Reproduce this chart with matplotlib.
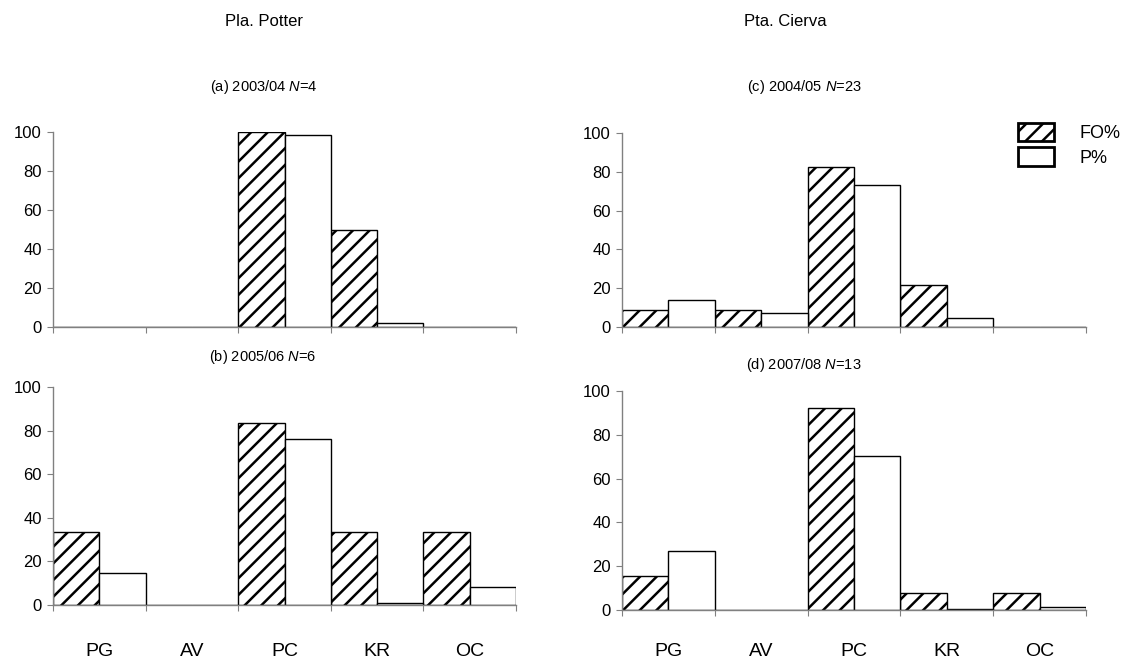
import matplotlib
matplotlib.use("Agg")
import matplotlib.pyplot as plt
import numpy as np

plt.rcParams['font.family'] = ['Liberation Sans', 'DejaVu Sans']
plt.rcParams['mathtext.fontset'] = 'custom'
plt.rcParams['mathtext.it'] = 'Liberation Sans:italic'
plt.rcParams['mathtext.rm'] = 'Liberation Sans'
plt.rcParams['hatch.linewidth'] = 1.8

categories = ['PG', 'AV', 'PC', 'KR', 'OC']

# (a) Pla. Potter 2003/04
fo_a = [0, 0, 100, 50, 0]
p_a = [0, 0, 98.5, 2.0, 0]
# (b) Pla. Potter 2005/06
fo_b = [33.3, 0, 83.3, 33.3, 33.3]
p_b = [14.9, 0, 76.2, 1.0, 8.3]
# (c) Pta. Cierva 2004/05
fo_c = [8.7, 8.7, 82.6, 21.7, 0]
p_c = [14.0, 7.0, 73.4, 4.8, 0]
# (d) Pta. Cierva 2007/08
fo_d = [15.4, 0, 92.3, 7.7, 7.7]
p_d = [26.8, 0, 70.5, 0.3, 1.4]

W, H = 1131, 660


def px_rect(x0, x1, y0, y100):
    return [x0 / W, 1 - y0 / H, (x1 - x0) / W, (y0 - y100) / H]


panels = [
    (fo_a, p_a, px_rect(53, 516, 327, 132), False, 0),
    (fo_b, p_b, px_rect(53, 516, 605, 387), True, 27),
    (fo_c, p_c, px_rect(622, 1086, 327, 133), False, 0),
    (fo_d, p_d, px_rect(622, 1086, 610, 391), True, 24),
]

fig = plt.figure(figsize=(W / 100, H / 100), dpi=100)
axis_grey = '#808080'

axes = []
for fo, p, rect, show_labels, lab_pad in panels:
    ax = fig.add_axes(rect)
    x = np.arange(len(categories))
    ax.bar(x + 0.25, fo, width=0.5, color='white', edgecolor='black',
           hatch='//', linewidth=1.0, label='FO%')
    ax.bar(x + 0.75, p, width=0.5, color='white', edgecolor='black',
           linewidth=1.0, label='P%')
    ax.set_xlim(0, len(categories))
    ax.set_ylim(0, 100)
    ax.set_yticks([0, 20, 40, 60, 80, 100])
    ax.set_xticks(np.arange(len(categories) + 1))
    ax.set_xticklabels([])
    ax.set_xticks(x + 0.5, minor=True)
    if show_labels:
        ax.set_xticklabels(categories, minor=True, fontsize=14)
    ax.tick_params(axis='x', which='minor', length=0, pad=lab_pad)
    ax.tick_params(axis='x', which='major', length=4, color=axis_grey)
    ax.tick_params(axis='y', length=4, color=axis_grey, labelsize=12, pad=4)
    for s in ['top', 'right']:
        ax.spines[s].set_visible(False)
    for s in ['left', 'bottom']:
        ax.spines[s].set_color(axis_grey)
        ax.spines[s].set_linewidth(1.0)
    axes.append(ax)

# column titles and panel subtitles
fig.text(264 / W, 1 - 22 / H, 'Pla. Potter', ha='center', va='center', fontsize=12)
fig.text(785 / W, 1 - 22 / H, 'Pta. Cierva', ha='center', va='center', fontsize=12)

subtitles = [
    (264, 87, r'(a) 2003/04 $\mathit{N}$=4'),
    (263, 357, r'(b) 2005/06 $\mathit{N}$=6'),
    (804, 87, r'(c) 2004/05 $\mathit{N}$=23'),
    (804, 365, r'(d) 2007/08 $\mathit{N}$=13'),
]
for xc, yc, s in subtitles:
    fig.text(xc / W, 1 - yc / H, s, ha='center', va='center', fontsize=10.5)

handles, labels = axes[2].get_legend_handles_labels()
leg = fig.legend(handles, labels, loc='upper left',
                 bbox_to_anchor=(1005 / W, 1 - 110 / H),
                 frameon=False, fontsize=13, handlelength=2.0, handleheight=1.2,
                 handletextpad=1.4, labelspacing=0.3, borderpad=0.2)
for h in leg.legend_handles:
    h.set_linewidth(2.0)

fig.savefig('out.png', dpi=100)
